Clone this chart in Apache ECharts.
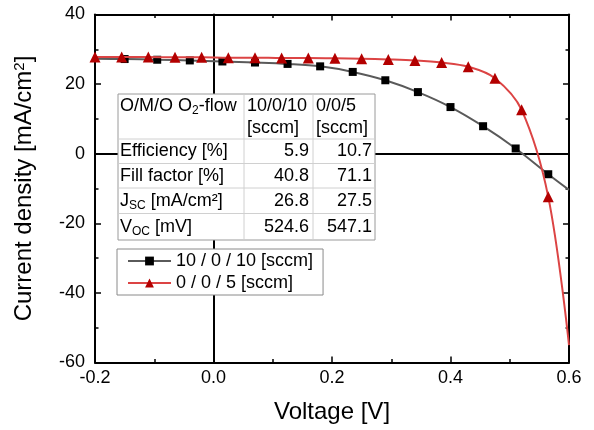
<!DOCTYPE html>
<html>
<head>
<meta charset="utf-8">
<script src="https://cdn.jsdelivr.net/npm/echarts@6/dist/echarts.min.js"></script>
<style>
  html, body { margin: 0; padding: 0; background: #fff; }
  #chart { width: 594px; height: 430px; }
</style>
</head>
<body>
<div id="chart"></div>
<script>
const FONT = 'Liberation Sans, Arial, sans-serif';

// 10 / 0 / 10 [sccm] (black squares, grey line); first and last points are line-only
const voltA = [-0.2, -0.15, -0.095, -0.04, 0.015, 0.07, 0.125, 0.18, 0.235, 0.29, 0.345, 0.4, 0.455, 0.51, 0.565, 0.6];
const currA = [27.3, 27.2, 27.0, 26.8, 26.5, 26.2, 25.8, 25.1, 23.5, 21.1, 17.7, 13.4, 7.9, 1.5, -5.9, -10.4];

// 0 / 0 / 5 [sccm] (red triangles); last point is line-only
const voltB = [-0.2, -0.155, -0.11, -0.065, -0.02, 0.025, 0.07, 0.115, 0.16, 0.205, 0.25, 0.295, 0.34, 0.385, 0.43, 0.475, 0.52, 0.565, 0.6];
const currB = [27.8, 27.8, 27.8, 27.7, 27.7, 27.6, 27.6, 27.5, 27.5, 27.4, 27.3, 27.1, 26.8, 26.2, 25.0, 21.7, 12.6, -12.4, -55];

const seriesNames = ['10 / 0 / 10 [sccm]', '0 / 0 / 5 [sccm]'];

// inset table
const tableHeader = ['O/M/O O{sub|2}-flow', '10/0/10\n[sccm]', '0/0/5\n[sccm]'];
const rowLabels = ['Efficiency [%]', 'Fill factor [%]', 'J{sub|SC} [mA/cm²]', 'V{sub|OC} [mV]'];
const valuesA = ['5.9', '40.8', '26.8', '524.6'];
const valuesB = ['10.7', '71.1', '27.5', '547.1'];

function points(xs, ys, noMarker) {
  return xs.map((x, i) => {
    const item = { value: [x, ys[i]] };
    if (noMarker.indexOf(i) >= 0) item.symbol = 'none';
    return item;
  });
}

function buildTable() {
  const colW = [126, 69, 62];
  const rowH = [45, 24.5, 24.5, 25.5, 26.5];
  const totalW = colW.reduce((a, b) => a + b, 0);
  const totalH = rowH.reduce((a, b) => a + b, 0);
  const rich = {
    sub: { fontSize: 12, fontFamily: FONT, padding: [9, 0, 0, 0] }
  };
  const textEl = (text, x, y, align) => ({
    type: 'text', x: x, y: y, z: 101,
    style: {
      text: text, fill: '#000', font: '18px ' + FONT, fontSize: 18, fontFamily: FONT,
      align: align, textAlign: align, verticalAlign: 'middle', textVerticalAlign: 'middle',
      lineHeight: 22, rich: rich
    }
  });
  const children = [
    { type: 'rect', z: 100, shape: { x: 0, y: 0, width: totalW, height: totalH },
      style: { fill: '#fff', stroke: '#9a9a9a', lineWidth: 1 } }
  ];
  let y = 0;
  for (let r = 0; r < rowH.length - 1; r++) {
    y += rowH[r];
    children.push({ type: 'line', z: 101, shape: { x1: 0.5, y1: y, x2: totalW - 0.5, y2: y },
      style: { stroke: '#d0d0d0', lineWidth: 1 } });
  }
  let x = 0;
  for (let c = 0; c < colW.length - 1; c++) {
    x += colW[c];
    children.push({ type: 'line', z: 101, shape: { x1: x, y1: 0.5, x2: x, y2: totalH - 0.5 },
      style: { stroke: '#d0d0d0', lineWidth: 1 } });
  }
  children.push(textEl(tableHeader[0], 2, 12, 'left'));
  children.push(textEl(tableHeader[1], colW[0] + 3, 23, 'left'));
  children.push(textEl(tableHeader[2], colW[0] + colW[1] + 3, 23, 'left'));
  let top = rowH[0];
  for (let r = 0; r < rowLabels.length; r++) {
    const cy = top + rowH[r + 1] / 2;
    children.push(textEl(rowLabels[r], 2, cy, 'left'));
    children.push(textEl(valuesA[r], colW[0] + colW[1] - 4, cy, 'right'));
    children.push(textEl(valuesB[r], totalW - 3, cy, 'right'));
    top += rowH[r + 1];
  }
  return [{ type: 'group', left: 116, top: 92, z: 100, children: children }];
}

const chart = echarts.init(document.getElementById('chart'), null, { renderer: 'canvas' });

const axisCommon = {
  axisLine: { show: true, onZero: false, lineStyle: { color: '#000', width: 2 } },
  axisTick: { show: true, inside: true, length: 6, lineStyle: { color: '#000', width: 1.5 } },
  minorTick: { show: true, splitNumber: 2, length: 3.5, lineStyle: { color: '#000', width: 1.5 } },
  splitLine: { show: false }
};

// axis lines through the origin (zero lines)
const zeroAxis = {
  type: 'value',
  axisLine: { show: true, onZero: true, onZeroAxisIndex: 0, lineStyle: { color: '#000', width: 2 } },
  axisTick: { show: false },
  axisLabel: { show: false },
  splitLine: { show: false }
};

const option = {
  backgroundColor: '#fff',
  animation: false,
  grid: { left: 95, right: 25, top: 14.5, bottom: 67.5, containLabel: false },
  legend: {
    orient: 'vertical',
    left: 117,
    top: 249,
    z: 100,
    padding: [3, 10, 3, 10],
    itemGap: 4,
    itemWidth: 43,
    itemHeight: 11,
    backgroundColor: '#fff',
    borderColor: '#8a8a8a',
    borderWidth: 1,
    borderRadius: 0,
    textStyle: { fontSize: 18, fontFamily: FONT, color: '#000' },
    data: seriesNames
  },
  xAxis: [
    Object.assign({
      type: 'value', min: -0.2, max: 0.6, interval: 0.2,
      name: 'Voltage [V]', nameLocation: 'middle', nameGap: 38,
      nameTextStyle: { fontSize: 24, fontFamily: FONT, color: '#000' },
      axisLabel: { fontSize: 18, fontFamily: FONT, color: '#000', margin: 7,
        formatter: v => v.toFixed(1) }
    }, axisCommon),
    Object.assign({
      type: 'value', position: 'top', min: -0.2, max: 0.6, interval: 0.2,
      axisLabel: { show: false }
    }, axisCommon),
    Object.assign({}, zeroAxis, { min: -0.2, max: 0.6 })
  ],
  yAxis: [
    Object.assign({
      type: 'value', min: -60, max: 40, interval: 20,
      name: 'Current density [mA/cm{sup|2}]', nameLocation: 'middle', nameGap: 58,
      nameTextStyle: { fontSize: 24, fontFamily: FONT, color: '#000',
        rich: { sup: { fontSize: 15, fontFamily: FONT, padding: [0, 0, 10, 0] } } },
      axisLabel: { fontSize: 18, fontFamily: FONT, color: '#000', margin: 10 }
    }, axisCommon),
    Object.assign({
      type: 'value', position: 'right', min: -60, max: 40, interval: 20,
      axisLabel: { show: false }
    }, axisCommon),
    Object.assign({}, zeroAxis, { min: -60, max: 40 })
  ],
  graphic: buildTable(),
  series: [
    {
      name: seriesNames[0],
      type: 'line',
      data: points(voltA, currA, [0, voltA.length - 1]),
      smooth: 0.35,
      symbol: 'rect',
      symbolSize: 8,
      showAllSymbol: true,
      lineStyle: { color: '#5a5a5a', width: 2 },
      itemStyle: { color: '#000' },
      z: 3
    },
    {
      name: seriesNames[1],
      type: 'line',
      data: points(voltB, currB, [voltB.length - 1]),
      smooth: 0.35,
      symbol: 'triangle',
      symbolSize: 11,
      showAllSymbol: true,
      lineStyle: { color: '#dc4444', width: 2 },
      itemStyle: { color: '#b30000' },
      z: 4
    }
  ]
};

chart.setOption(option);
</script>
</body>
</html>
